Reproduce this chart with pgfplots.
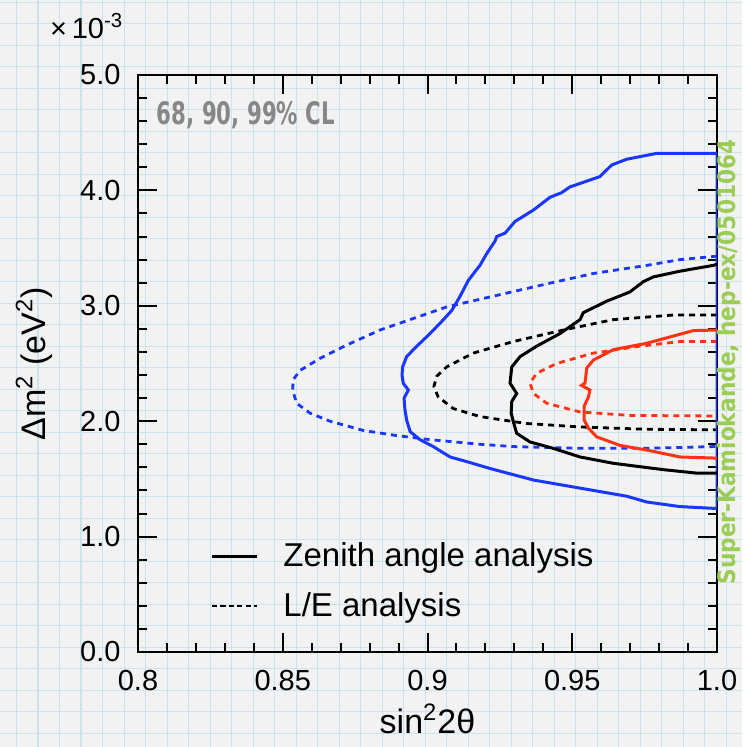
\documentclass[border=0pt]{standalone}
\usepackage{pgfplots}
\pgfplotsset{compat=1.18}
\usepackage{fontspec}
\setmainfont{Liberation Sans}
\newfontfamily\handfont{DejaVu Sans Condensed}
\definecolor{cblue}{RGB}{25,55,255}
\definecolor{cred}{RGB}{255,50,20}
\definecolor{gridblue}{RGB}{204,227,237}
\definecolor{bg}{RGB}{242,242,242}
\definecolor{sgreen}{RGB}{155,205,85}
\definecolor{lgray}{RGB}{135,135,135}

\begin{document}
\begin{tikzpicture}
\clip (-69pt,-47.5pt) rectangle (302pt,326pt);
\fill[bg] (-69pt,-47.5pt) rectangle (302pt,326pt);
\foreach \i in {0,...,34} {\draw[gridblue, line width=0.7pt] ({-60.65pt+\i*10.75pt},-47.5pt) -- ++(0,373.5pt);}
\foreach \i in {0,...,35} {\draw[gridblue, line width=0.7pt] (-69pt,{-40.65pt+\i*10.75pt}) -- ++(371pt,0);}
\begin{axis}[
  scale only axis, width=289.5pt, height=288.5pt,
  xmin=0.8, xmax=1.0, ymin=0, ymax=5,
  xtick={0.8,0.85,0.9,0.95,1.0}, xticklabels={0.8,0.85,0.9,0.95,1.0},
  ytick={0,1,2,3,4,5}, yticklabels={0.0,1.0,2.0,3.0,4.0,5.0},
  minor x tick num=4, minor y tick num=4,
  tick align=inside, major tick length=9.5pt, minor tick length=4.5pt,
  axis line style={line width=1pt},
  every tick/.style={black, line width=1pt},
  ticklabel style={font=\fontsize{14.5}{17}\selectfont},
  xticklabel style={yshift=-5.7pt},
  yticklabel style={xshift=-5.2pt},
  label style={font=\fontsize{17}{20}\selectfont},
  xlabel={sin\textsuperscript{2}2θ},
  ylabel={Δm\textsuperscript{2} (eV\textsuperscript{2})},
  xlabel style={at={(axis description cs:0.5,-0.1404)}, anchor=base},
  ylabel style={at={(axis description cs:-0.1606,0.5)}, anchor=base},
  legend image code/.code={\draw[#1] (0pt,0pt) -- (22.5pt,0pt);},
  legend cell align=left,
  legend style={at={(axis description cs:0.1244,0.123)}, anchor=west,
    draw=none, fill=none, inner sep=0pt, column sep=12.5pt, row sep=11.5pt,
    nodes={inner sep=0pt}, font=\fontsize{16.5}{19}\selectfont},
]
\addlegendimage{black, line width=1.5pt}
\addlegendentry{Zenith angle analysis}
\addlegendimage{black, line width=1.3pt, dash pattern=on 2.6pt off 1.6pt}
\addlegendentry{L/E analysis}

% 99% L/E (blue dashed)
\addplot[forget plot, cblue, line width=1.4pt, dash pattern=on 3pt off 2.5pt] coordinates {
(1.0,3.43) (0.9872,3.40) (0.9757,3.35) (0.9573,3.28) (0.9412,3.19) (0.9239,3.09)
(0.9066,2.99) (0.8951,2.89) (0.8836,2.79) (0.8721,2.66) (0.8629,2.545) (0.8560,2.44)
(0.8536,2.36) (0.8534,2.27) (0.8548,2.155) (0.8594,2.07) (0.8663,2.00) (0.8778,1.92)
(0.8894,1.875) (0.9009,1.84) (0.9181,1.80) (0.9296,1.78) (0.9527,1.765) (0.9757,1.765)
(0.9987,1.78) (1.0,1.78)};
% 90% L/E (black dashed)
\addplot[forget plot, black, line width=1.4pt, dash pattern=on 3pt off 2.5pt] coordinates {
(1.0,2.92) (0.9849,2.92) (0.9642,2.88) (0.9469,2.79) (0.9296,2.69) (0.9158,2.59)
(0.9066,2.47) (0.9032,2.39) (0.9022,2.30) (0.9037,2.21) (0.9089,2.11) (0.9181,2.04)
(0.9342,1.98) (0.9527,1.95) (0.9757,1.93) (1.0,1.925)};
% 68% L/E (red dashed)
\addplot[forget plot, cred, line width=1.4pt, dash pattern=on 3pt off 2.5pt] coordinates {
(1.0,2.69) (0.9872,2.69) (0.9734,2.65) (0.9573,2.59) (0.9446,2.50) (0.9377,2.415)
(0.9354,2.33) (0.9366,2.24) (0.9412,2.155) (0.9527,2.08) (0.9699,2.05) (1.0,2.045)};
% 99% zenith (blue solid)
\addplot[forget plot, cblue, line width=1.5pt] coordinates {
(1.0,4.32) (0.979,4.32) (0.9688,4.27) (0.9636,4.22) (0.9596,4.12) (0.9492,4.03)
(0.9463,3.98) (0.9423,3.94) (0.9366,3.83) (0.9302,3.73) (0.9268,3.63) (0.9239,3.60)
(0.9233,3.56) (0.9204,3.45) (0.9181,3.35) (0.9141,3.22) (0.9112,3.08) (0.9084,2.96)
(0.9055,2.88) (0.9009,2.76) (0.8963,2.65) (0.8928,2.56) (0.8914,2.47) (0.8912,2.40)
(0.8916,2.33) (0.8934,2.27) (0.8919,2.20) (0.8922,2.10) (0.8928,2.01) (0.8940,1.91)
(0.8974,1.84) (0.9020,1.78) (0.9078,1.69) (0.9135,1.65) (0.9216,1.59) (0.9366,1.49)
(0.9527,1.42) (0.9688,1.35) (0.9757,1.30) (0.9872,1.26) (0.9987,1.245) (1.0,1.245)
(1.0,4.32)};
% 90% zenith (black solid)
\addplot[forget plot, black, line width=1.5pt] coordinates {
(1.0,3.36) (0.9987,3.35) (0.9872,3.30) (0.9780,3.25) (0.9746,3.21) (0.9699,3.12)
(0.9619,3.04) (0.9538,2.94) (0.9527,2.88) (0.9458,2.76) (0.9377,2.65) (0.9320,2.56)
(0.9291,2.47) (0.9285,2.33) (0.9308,2.24) (0.9291,2.17) (0.9289,2.07) (0.9296,2.00)
(0.9308,1.895) (0.9354,1.82) (0.9434,1.765) (0.9527,1.69) (0.9642,1.635) (0.9815,1.58)
(0.9930,1.55) (1.0,1.55)};
% 68% zenith (red solid)
\addplot[forget plot, cred, line width=1.5pt] coordinates {
(1.0,2.79) (0.9918,2.785) (0.9757,2.675) (0.9642,2.62) (0.9573,2.53) (0.9550,2.46)
(0.9544,2.33) (0.9532,2.31) (0.9561,2.27) (0.9556,2.21) (0.9541,2.13) (0.9541,2.01)
(0.9556,1.94) (0.9584,1.865) (0.9665,1.79) (0.9757,1.75) (0.9872,1.69) (1.0,1.68)};

\node[text=lgray, anchor=center] at (axis description cs:0.1865,0.9307)
  {\resizebox{89pt}{11.5pt}{\handfont\bfseries 68, 90, 99\% CL}};
\end{axis}
\node[anchor=base west, font=\fontsize{14.5}{17}\selectfont] at (-47.5pt,306.8pt)
  {×\,10\textsuperscript{-3}};
\node[rotate=90, anchor=south, text=sgreen, inner sep=0pt] at (301.4pt,145pt)
  {\resizebox{222.5pt}{!}{\handfont\bfseries Super-Kamiokande, hep-ex/0501064}};
\end{tikzpicture}
\end{document}
